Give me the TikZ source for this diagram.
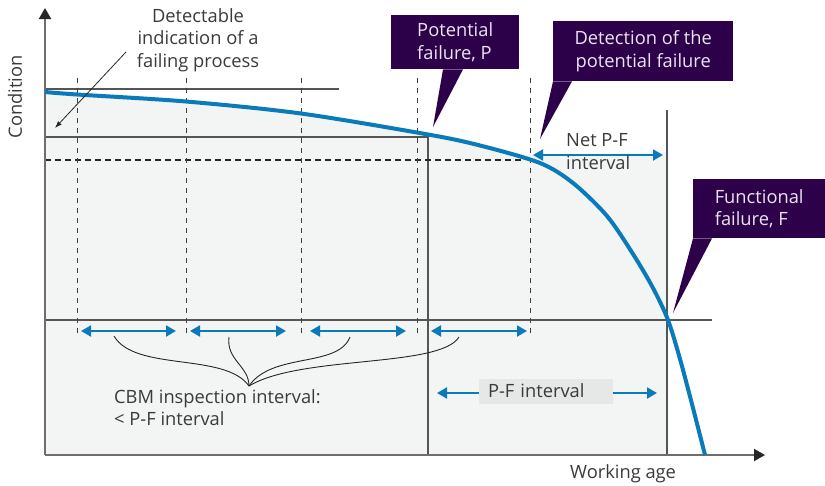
\documentclass[tikz,border=0pt]{standalone}
\usepackage{fontspec}
\setmainfont{Open Sans}
\usetikzlibrary{arrows.meta,calc}

\definecolor{curveblue}{HTML}{0A7BBA}
\definecolor{callout}{HTML}{2D0149}
\definecolor{callouttxt}{HTML}{EAE4F2}
\definecolor{areagray}{HTML}{F3F4F4}
\definecolor{axisgray}{HTML}{6E6E6E}
\definecolor{guidegray}{HTML}{555555}
\definecolor{txt}{HTML}{3A3A3A}
\definecolor{labelbg}{HTML}{E6E7E7}

\tikzset{
  axisline/.style={line width=2pt,draw=axisgray,-{Triangle[length=11pt,width=12pt,color=black!85]}},
  guide/.style={line width=1.1pt,draw=guidegray},
  tickline/.style={line width=1pt,draw=black!75,dash pattern=on 5pt off 5pt},
  blueint/.style={line width=2pt,draw=curveblue,{Triangle[length=10pt,width=11pt]}-{Triangle[length=10pt,width=11pt]}},
  blueone/.style={line width=2pt,draw=curveblue,-{Triangle[length=10pt,width=11pt]}},
  callbox/.style={fill=callout,text=callouttxt,inner sep=0pt},
  lbl/.style={text=txt,inner sep=0pt},
  brace/.style={line width=0.9pt,draw=black!85},
}

\begin{document}
\begin{tikzpicture}[x=1pt,y=-1pt,font=\fontsize{18.3}{22.8}\selectfont]
  \useasboundingbox (0,0) rectangle (825,485);

  % shaded area below the curve
  \fill[areagray] plot[smooth] coordinates {(45,90) (77,93) (186,100) (301,112) (428,132) (480,143) (530,156)}
    -- (667,152) -- (667,455) -- (45,455) -- cycle;

  % guide lines
  \draw[guide] (45,89) -- (339,89);
  \draw[guide] (45,137) -- (428,137) -- (428,455);
  \draw[guide] (45,320) -- (712,320);
  \draw[guide] (667,110) -- (667,455);
  \draw[line width=1.8pt,black!85,dash pattern=on 6pt off 4pt] (45,160) -- (522,160);
  \foreach \x in {77,186,301,417,530}
    \draw[tickline] (\x,78) -- (\x,334);

  % axes
  \draw[axisline] (45,455) -- (45,8);
  \draw[axisline] (45,455) -- (765,455);

  % condition curve
  \draw[curveblue,line width=4pt] plot[smooth] coordinates {(45,92) (77,94.5) (186,101.5) (301,113.5) (428,134.5) (480,145.5) (540,163) (573,183) (607,216) (633,254) (653,288) (668,320) (680,359) (693,408) (705,455)};

  % inspection intervals
  \foreach \a/\b in {81/176,190/286,310/406,431/527}
    \draw[blueint] (\a,331) -- (\b,331);
  \draw[blueint] (533,155) -- (663,155);

  \node[lbl,anchor=north west,align=left] (netPF) at (566,133) {Net P-F\\interval};

  \node[fill=labelbg,text=txt,minimum width=134pt,minimum height=25pt,inner xsep=9pt,inner ysep=0pt,text width=116pt,align=left] (pfLabel) at (546,391) {P-F interval};
  \coordinate (pfLeft) at (437,393);
  \coordinate (pfRight) at (657,393);
  \draw[blueone] (pfLabel.west |- pfLeft) -- (pfLeft);
  \draw[blueone] (pfLabel.east |- pfRight) -- (pfRight);

  % braces
  \coordinate (cbmTop) at (249,386);
  \draw[brace] (114,336) .. controls (135,372) and (225,352) .. (cbmTop);
  \draw[brace] (229,337) .. controls (226,360) and (249,366) .. (cbmTop);
  \draw[brace] (350,337) .. controls (338,368) and (272,352) .. (cbmTop);
  \draw[brace] (459,337) .. controls (440,368) and (300,355) .. (cbmTop);
  \node[lbl,anchor=north west,align=left] (cbm) at (114,389) {CBM inspection interval:\\< P-F interval};

  % labels
  \node[lbl,anchor=north,align=center] (detect) at (198,8) {Detectable\\indication of a\\failing process};
  \coordinate (detTail) at (126,52);
  \coordinate (detHead) at (55,128);
  \draw[black!85,line width=0.8pt,-{Latex[length=7pt,width=5pt]}] (detTail) -- (detHead);

  \node[lbl,rotate=90] (condLbl) at (15,97) {Condition};
  \node[lbl,anchor=north west] (ageLbl) at (570,464) {Working age};

  % callouts
  \node[callbox,anchor=north west,minimum width=128pt,minimum height=54pt,align=left] (potP) at (391,15) {Potential\\failure, P};
  \coordinate (tipP) at (433,127);
  \fill[callout] ($(potP.south west)+(52,0)$) -- ($(potP.south west)+(72,0)$) -- (tipP) -- cycle;

  \node[callbox,anchor=north west,minimum width=180pt,minimum height=60pt,align=center] (detP) at (553,21) {Detection of the\\potential failure};
  \coordinate (tipD) at (540,139);
  \fill[callout] (detP.south west) -- ($(detP.south west)+(19,0)$) -- (tipD) -- cycle;

  \node[callbox,anchor=north west,minimum width=132pt,minimum height=59pt,align=left] (funcF) at (693,179) {Functional\\failure, F};
  \coordinate (tipF) at (673,313);
  \fill[callout] (funcF.south west) -- ($(funcF.south west)+(19,0)$) -- (tipF) -- cycle;
\end{tikzpicture}
\end{document}
